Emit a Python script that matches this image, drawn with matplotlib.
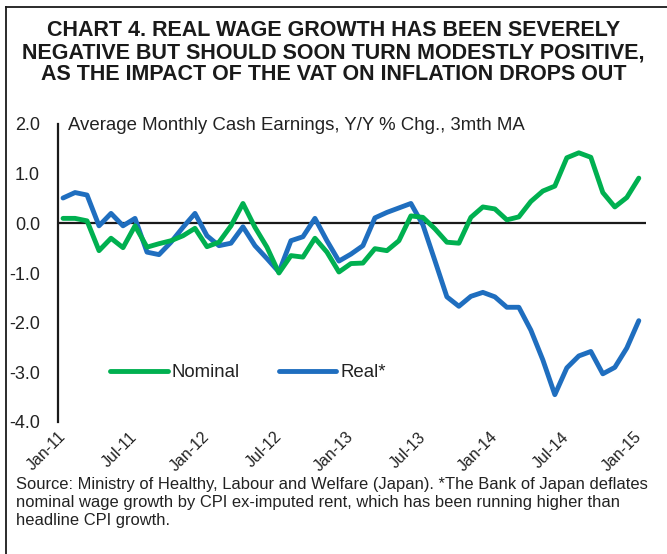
import matplotlib
matplotlib.use("Agg")
import matplotlib.pyplot as plt
from matplotlib.lines import Line2D

plt.rcParams['font.family'] = ['Liberation Sans', 'DejaVu Sans']

months = list(range(49))
tick_labels = ["Jan-11", "Jul-11", "Jan-12", "Jul-12", "Jan-13",
               "Jul-13", "Jan-14", "Jul-14", "Jan-15"]
tick_pos = [0, 6, 12, 18, 24, 30, 36, 42, 48]

nominal = [0.10, 0.10, 0.05, -0.55, -0.30, -0.49, -0.05, -0.48, -0.41, -0.35,
           -0.25, -0.10, -0.47, -0.38, -0.05, 0.40, -0.08, -0.48, -1.00, -0.65,
           -0.68, -0.30, -0.58, -0.98, -0.81, -0.80, -0.51, -0.55, -0.35, 0.15,
           0.12, -0.11, -0.38, -0.40, 0.12, 0.33, 0.29, 0.07, 0.13, 0.44,
           0.65, 0.75, 1.32, 1.42, 1.33, 0.62, 0.33, 0.52, 0.91]
real = [0.51, 0.62, 0.57, -0.05, 0.20, -0.05, 0.10, -0.58, -0.63, -0.38,
        -0.08, 0.20, -0.25, -0.45, -0.40, -0.07, -0.45, -0.71, -0.98, -0.35,
        -0.27, 0.10, -0.35, -0.76, -0.62, -0.45, 0.11, 0.22, 0.31, 0.40,
        -0.03, -0.75, -1.48, -1.67, -1.47, -1.39, -1.48, -1.69, -1.69, -2.15,
        -2.75, -3.45, -2.91, -2.67, -2.58, -3.03, -2.90, -2.51, -1.96]

title_lines = ["CHART 4. REAL WAGE GROWTH HAS BEEN SEVERELY",
               "NEGATIVE BUT SHOULD SOON TURN MODESTLY POSITIVE,",
               "AS THE IMPACT OF THE VAT ON INFLATION DROPS OUT"]
source_lines = ["Source: Ministry of Healthy, Labour and Welfare (Japan). *The Bank of Japan deflates",
                "nominal wage growth by CPI ex-imputed rent, which has been running higher than",
                "headline CPI growth."]

W, H = 667, 554
fig = plt.figure(figsize=(W / 100, H / 100), dpi=100)
ax = fig.add_axes([58 / W, 1 - 422 / H, (646 - 58) / W, (422 - 124) / H])

green = '#00B050'
blue = '#1F6EBF'
txt = '#222222'

ax.axhline(0, color='#1a1a1a', lw=1.6, zorder=1)
ax.plot(months, nominal, color=green, lw=3.5, solid_capstyle='round',
        solid_joinstyle='round', label='Nominal', zorder=3)
ax.plot(months, real, color=blue, lw=3.5, solid_capstyle='round',
        solid_joinstyle='round', label='Real*', zorder=2)

ax.set_xlim(-0.42, 48.6)
ax.set_ylim(-4.0, 2.0)
ax.set_yticks([2, 1, 0, -1, -2, -3, -4])
ax.set_yticklabels([f"{v:.1f}" for v in [2, 1, 0, -1, -2, -3, -4]])
ax.set_xticks(tick_pos)
ax.set_xticklabels(tick_labels, rotation=45, ha='right', va='center',
                   rotation_mode='anchor')
ax.tick_params(axis='y', length=0, pad=13, labelsize=13, labelcolor=txt)
ax.tick_params(axis='x', length=0, pad=9, labelsize=11.5, labelcolor=txt)

for s in ['top', 'right', 'bottom']:
    ax.spines[s].set_visible(False)
ax.spines['left'].set_color('#1a1a1a')
ax.spines['left'].set_linewidth(1.6)

ax.text(0.017, 0.995, "Average Monthly Cash Earnings, Y/Y % Chg., 3mth MA",
        transform=ax.transAxes, fontsize=13.4, color=txt, va='center', ha='left')

leg = ax.legend(loc='center left', bbox_to_anchor=(0.06, 0.165), ncol=2,
                frameon=False, fontsize=13.4, handlelength=3.1, handletextpad=0.2,
                columnspacing=2.1, labelcolor=txt)

for i, line in enumerate(title_lines):
    fig.text(0.5, 1 - (30 + 22.5 * i) / H, line, ha='center', va='center',
             fontsize=15.5, fontweight='bold', color='#1a1a1a')

for i, line in enumerate(source_lines):
    fig.text(16 / W, 1 - (484 + 18.5 * i) / H, line, ha='left', va='center',
             fontsize=11.9, color=txt)

fig.add_artist(Line2D([6 / W, 6 / W], [0, 1 - 7 / H], transform=fig.transFigure,
                      color='#1a1a1a', lw=1.3))
fig.add_artist(Line2D([6 / W, 1], [1 - 7 / H, 1 - 7 / H], transform=fig.transFigure,
                      color='#1a1a1a', lw=1.3))

fig.savefig('out.png', dpi=100)
